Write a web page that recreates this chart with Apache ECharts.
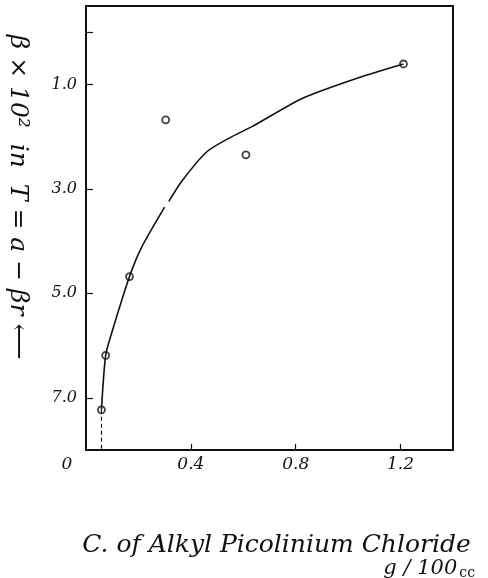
<!DOCTYPE html>
<html>
<head>
<meta charset="utf-8">
<script src="https://cdn.jsdelivr.net/npm/echarts@6/dist/echarts.min.js"></script>
<style>html,body{margin:0;padding:0;background:#fff}#c{width:488px;height:578px}</style>
</head>
<body>
<div id="c"></div>
<script>
// measured points (C in g/100cc, beta x 10^2)
const conc = [0.059, 0.075, 0.166, 0.304, 0.61, 1.211];
const beta = [7.23, 6.19, 4.68, 1.68, 2.35, 0.61];
// hand-drawn fitted curve (null = pen gap)
const curveX = [0.059, 0.075, 0.098, 0.166, 0.212, 0.300, null, 0.316, 0.366, 0.461, 0.557, 0.633, 0.825, 1.054, 1.211];
const curveY = [7.23, 6.19, 5.76, 4.68, 4.12, 3.35, null, 3.24, 2.85, 2.29, 2.00, 1.81, 1.27, 0.85, 0.61];
// drop line from first point to the axis
const dropX = [0.059, 0.059];
const dropY = [7.23, 8.0];
const xTickVals = [0.4, 0.8, 1.2];
const xLabelVals = [0, 0.4, 0.8, 1.2];
const yTickVals = [0, 1, 3, 5, 7];
const yLabelVals = [1, 3, 5, 7];

const FONT = 'DejaVu Serif';
const chart = echarts.init(document.getElementById('c'), null, {renderer: 'canvas'});
const pts = conc.map((x, i) => [x, beta[i]]);
const curve = curveX.map((x, i) => x === null ? [null, null] : [x, curveY[i]]);
const drop = dropX.map((x, i) => [x, dropY[i]]);

chart.setOption({
  animation: false,
  backgroundColor: '#fff',
  grid: {left: 86, top: 6, right: 35, bottom: 128, containLabel: false, outerBoundsMode: 'none',
    show: true, borderColor: '#111', borderWidth: 2, backgroundColor: 'transparent'},
  xAxis: {
    type: 'value', min: 0, max: 1.4,
    axisLine: {show: true, onZero: false, lineStyle: {color: '#111', width: 2}},
    axisTick: {show: true, inside: true, length: 6, customValues: xTickVals, lineStyle: {color: '#111', width: 1.2}},
    splitLine: {show: false},
    axisLabel: {
      customValues: xLabelVals, margin: 6, color: '#111', fontFamily: FONT, fontStyle: 'italic', fontSize: 17,
      formatter: v => v === 0 ? '{o|0}' : v.toFixed(1),
      rich: {o: {padding: [0, 38, 0, 0], fontFamily: FONT, fontStyle: 'italic', fontSize: 17, color: '#111'}}
    },
    name: 'C. of Alkyl Picolinium Chloride',
    nameLocation: 'middle', nameGap: 83,
    nameTextStyle: {fontFamily: FONT, fontStyle: 'italic', fontSize: 25, color: '#111', padding: [0, 0, 0, 14]}
  },
  yAxis: {
    type: 'value', min: -0.5, max: 8, inverse: true,
    axisLine: {show: true, onZero: false, lineStyle: {color: '#111', width: 2}},
    axisTick: {show: true, inside: true, length: 7, customValues: yTickVals, lineStyle: {color: '#111', width: 1.2}},
    splitLine: {show: false},
    axisLabel: {customValues: yLabelVals, margin: 9, color: '#111', fontFamily: FONT, fontStyle: 'italic', fontSize: 16,
      formatter: v => v.toFixed(1)},
    name: 'β × 10²  in  T = a − βr ⟵',
    nameLocation: 'middle', nameRotate: -90, nameGap: 56,
    nameTextStyle: {fontFamily: FONT, fontStyle: 'italic', fontSize: 25, color: '#111', padding: [0, 62, 0, 0]}
  },
  title: {
    text: '{a|g / 100}{b|cc}', right: 8, top: 553,
    textStyle: {fontWeight: 'normal', rich: {
      a: {fontFamily: FONT, fontStyle: 'italic', fontWeight: 'normal', fontSize: 21, color: '#111'},
      b: {fontFamily: FONT, fontWeight: 'normal', fontSize: 14, color: '#111', verticalAlign: 'bottom', padding: [8, 0, 0, 2]}
    }}
  },
  series: [
    {type: 'line', data: curve, smooth: 0.25, showSymbol: false, connectNulls: false,
      lineStyle: {color: '#111', width: 1.6}},
    {type: 'line', data: drop, showSymbol: false, lineStyle: {color: '#111', width: 1.2, type: [4, 3]}},
    {type: 'scatter', data: pts, symbol: 'circle', symbolSize: 7,
      itemStyle: {color: '#fff', borderColor: '#111', borderWidth: 1.8}}
  ]
});
</script>
</body>
</html>
